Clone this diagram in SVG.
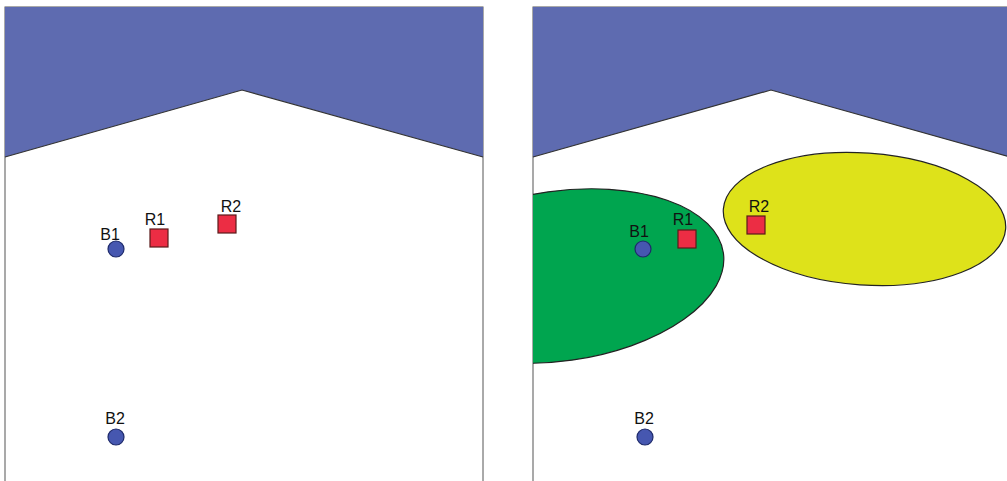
<svg xmlns="http://www.w3.org/2000/svg" width="1007" height="481" viewBox="0 0 1007 481">
<style>
.frame{fill:#fff;stroke:#555;stroke-width:1}
.sky{fill:#5E6BB0;stroke:none}
.edge{fill:none;stroke:#333;stroke-width:1.2}
.b{fill:#4657B0;stroke:#1E2A6A;stroke-width:1.2}
.r{fill:#EC2D44;stroke:#5A1A1A;stroke-width:1.2}
.lbl{font-family:"Liberation Sans",Arial,sans-serif;font-size:16px;fill:#111}
.zone{stroke:#222;stroke-width:1.2}
</style>
<defs>
<clipPath id="rclip"><rect x="533" y="7" width="480" height="480"/></clipPath>
</defs>
<g id="left-panel">
<rect class="frame" x="5" y="7" width="478" height="480"/>
<polygon class="sky" points="5,7 483,7 483,157 242,90 5,157"/>
<polyline class="edge" points="5,157 242,90 483,157"/>
</g>
<g id="right-panel">
<rect class="frame" x="533" y="7" width="480" height="480"/>
<polygon class="sky" points="533,7 1010,7 1010,157 771,90 533,157"/>
<polyline class="edge" points="533,157 771,90 1010,157"/>
</g>
<g id="green-zone" clip-path="url(#rclip)">
<ellipse class="zone" cx="560" cy="276" rx="165" ry="85" transform="rotate(-8 560 276)" fill="#00A54F"/>
</g>
<g id="yellow-zone">
<ellipse class="zone" cx="864.5" cy="219" rx="141.5" ry="66" transform="rotate(4 864.5 219)" fill="#DEE21A"/>
</g>
<g id="L-B1"><circle class="b" cx="116" cy="249" r="8"/><text class="lbl" x="110" y="240" text-anchor="middle">B1</text></g>
<g id="L-R1"><rect class="r" x="150" y="229" width="18" height="18"/><text class="lbl" x="155" y="225" text-anchor="middle">R1</text></g>
<g id="L-R2"><rect class="r" x="218" y="215" width="18" height="18"/><text class="lbl" x="231" y="212" text-anchor="middle">R2</text></g>
<g id="L-B2"><circle class="b" cx="116" cy="437" r="8"/><text class="lbl" x="115" y="424" text-anchor="middle">B2</text></g>
<g id="R-B1"><circle class="b" cx="643" cy="249" r="8"/><text class="lbl" x="639" y="237" text-anchor="middle">B1</text></g>
<g id="R-R1"><rect class="r" x="678" y="230" width="18" height="18"/><text class="lbl" x="683" y="225" text-anchor="middle">R1</text></g>
<g id="R-R2"><rect class="r" x="747" y="216" width="18" height="18"/><text class="lbl" x="759" y="212" text-anchor="middle">R2</text></g>
<g id="R-B2"><circle class="b" cx="645" cy="437" r="8"/><text class="lbl" x="644" y="424" text-anchor="middle">B2</text></g>
<g id="connectors"/>
</svg>
